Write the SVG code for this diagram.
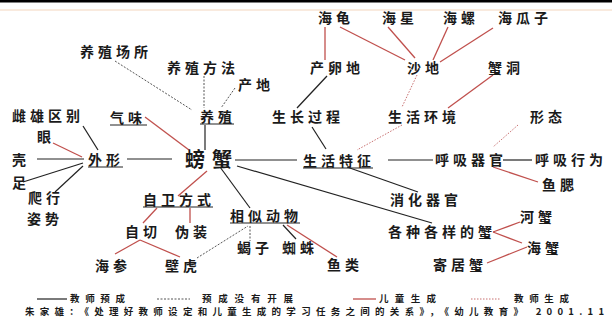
<svg xmlns="http://www.w3.org/2000/svg" width="612" height="322" viewBox="0 0 612 322">
<style>
text{font-family:"Noto Sans CJK SC","Noto Sans",sans-serif;fill:#1a1a1a;font-weight:bold;}
.t{font-size:14px;letter-spacing:4px;}
.big{font-size:20px;letter-spacing:7px;}
.lg{font-size:9.5px;}
.k{stroke:#222;stroke-width:1.2;fill:none;}
.r{stroke:#c0504d;stroke-width:1.3;fill:none;}
.kd{stroke:#555;stroke-width:1;stroke-dasharray:2 1.5;fill:none;}
.rd{stroke:#c87070;stroke-width:1;stroke-dasharray:1.5 1.5;fill:none;}
.u{stroke:#222;stroke-width:1;}
</style>
<rect x="0" y="0" width="612" height="322" fill="#fff"/>
<rect x="0" y="0" width="612" height="2.5" fill="#000"/>
<line x1="0" y1="10" x2="612" y2="10" stroke="#f3d6bd" stroke-width="1"/>

<g id="connectors">
<line class="k" x1="83" y1="126" x2="98" y2="150"/>
<line class="k" x1="37" y1="159" x2="84" y2="159"/>
<line class="k" x1="23" y1="182" x2="83" y2="163"/>
<line class="k" x1="55" y1="192" x2="83" y2="166"/>
<line class="k" x1="127" y1="159" x2="172" y2="159"/>
<line class="k" x1="205" y1="125" x2="205" y2="150"/>
<line class="k" x1="235" y1="160" x2="297" y2="160"/>
<line class="k" x1="327" y1="76" x2="297" y2="108"/>
<line class="k" x1="312" y1="127" x2="326" y2="149"/>
<line class="k" x1="388" y1="160" x2="433" y2="160"/>
<line class="k" x1="503" y1="160" x2="532" y2="160"/>
<line class="k" x1="347" y1="167" x2="418" y2="192"/>
<line class="k" x1="220" y1="167" x2="250" y2="208"/>
<line class="k" x1="237" y1="166" x2="432" y2="223"/>
<line class="k" x1="283" y1="225" x2="296" y2="239"/>

<line class="r" x1="53" y1="143" x2="82" y2="157"/>
<line class="r" x1="145" y1="117" x2="189" y2="150"/>
<line class="r" x1="207" y1="171" x2="178" y2="196"/>
<line class="r" x1="157" y1="208" x2="143" y2="223"/>
<line class="r" x1="190" y1="208" x2="190" y2="223"/>
<line class="r" x1="140" y1="240" x2="115" y2="254"/>
<line class="r" x1="140" y1="240" x2="180" y2="257"/>
<line class="r" x1="287" y1="225" x2="337" y2="257"/>
<line class="r" x1="325" y1="27" x2="325" y2="60"/>
<line class="r" x1="340" y1="27" x2="405" y2="60"/>
<line class="r" x1="388" y1="27" x2="415" y2="58"/>
<line class="r" x1="448" y1="27" x2="433" y2="60"/>
<line class="r" x1="493" y1="28" x2="440" y2="62"/>
<line class="r" x1="493" y1="75" x2="448" y2="108"/>
<line class="r" x1="493" y1="167" x2="538" y2="182"/>
<line class="r" x1="493" y1="232" x2="520" y2="222"/>
<line class="r" x1="493" y1="232" x2="522" y2="243"/>
<line class="r" x1="487" y1="263" x2="527" y2="247"/>

<line class="kd" x1="115" y1="61" x2="192" y2="110"/>
<line class="kd" x1="204" y1="76" x2="204" y2="108"/>
<line class="kd" x1="235" y1="88" x2="221" y2="108"/>
<line class="kd" x1="197" y1="258" x2="248" y2="226"/>
<line class="kd" x1="250" y1="226" x2="250" y2="241"/>

<line class="rd" x1="417" y1="75" x2="402" y2="107"/>
<line class="rd" x1="402" y1="125" x2="357" y2="150"/>
<line class="rd" x1="518" y1="125" x2="493" y2="147"/>
</g>

<g id="n-haigui"><text class="t" x="318" y="23">海龟</text></g>
<g id="n-haixing"><text class="t" x="382" y="23">海星</text></g>
<g id="n-hailuo"><text class="t" x="443" y="23">海螺</text></g>
<g id="n-haiguazi"><text class="t" x="498" y="23">海瓜子</text></g>
<g id="n-yangzhichangsuo"><text class="t" x="80" y="57">养殖场所</text></g>
<g id="n-chanluandi"><text class="t" x="310" y="73">产卵地</text></g>
<g id="n-shadi"><text class="t" x="407" y="73">沙地</text></g>
<g id="n-xiedong"><text class="t" x="488" y="73">蟹洞</text></g>
<g id="n-yangzhifangfa"><text class="t" x="167" y="73">养殖方法</text></g>
<g id="n-chandi"><text class="t" x="238" y="90">产地</text></g>
<g id="n-cixiong"><text class="t" x="12" y="121">雌雄区别</text></g>
<g id="n-qiwei"><text class="t" x="110" y="123">气味</text><line class="u" x1="110" y1="125" x2="147" y2="125"/></g>
<g id="n-yangzhi"><text class="t" x="200" y="122">养殖</text><line class="u" x1="200" y1="124" x2="234" y2="124"/></g>
<g id="n-shengzhang"><text class="t" x="272" y="122">生长过程</text></g>
<g id="n-shenghuohuanjing"><text class="t" x="388" y="122">生活环境</text></g>
<g id="n-xingtai"><text class="t" x="530" y="122">形态</text></g>
<g id="n-yan"><text class="t" x="37" y="142">眼</text></g>
<g id="n-ke"><text class="t" x="12" y="165">壳</text></g>
<g id="n-waixing"><text class="t" x="88" y="165">外形</text><line class="u" x1="88" y1="167" x2="123" y2="167"/></g>
<g id="n-pangxie"><text class="big" x="185" y="167">螃蟹</text></g>
<g id="n-shenghuotezheng"><text class="t" x="303" y="166">生活特征</text><line class="u" x1="303" y1="168" x2="373" y2="168"/></g>
<g id="n-huxiqiguan"><text class="t" x="435" y="165">呼吸器官</text></g>
<g id="n-huxixingwei"><text class="t" x="535" y="165">呼吸行为</text></g>
<g id="n-zu"><text class="t" x="12" y="188">足</text></g>
<g id="n-yusai"><text class="t" x="542" y="190">鱼腮</text></g>
<g id="n-paxing"><text class="t"><tspan x="28" y="203">爬行</tspan><tspan x="27" y="224">姿势</tspan></text></g>
<g id="n-ziwei"><text class="t" x="143" y="205">自卫方式</text><line class="u" x1="143" y1="207" x2="213" y2="207"/></g>
<g id="n-xiaohua"><text class="t" x="390" y="205">消化器官</text></g>
<g id="n-xiangsi"><text class="t" x="230" y="221">相似动物</text><line class="u" x1="230" y1="223" x2="300" y2="223"/></g>
<g id="n-hexie"><text class="t" x="520" y="222">河蟹</text></g>
<g id="n-ziqie"><text class="t" x="125" y="237">自切</text></g>
<g id="n-weizhuang"><text class="t" x="175" y="237">伪装</text></g>
<g id="n-gezhong"><text class="t" x="388" y="237">各种各样的蟹</text></g>
<g id="n-xiezi"><text class="t" x="237" y="253">蝎子</text></g>
<g id="n-zhizhu"><text class="t" x="282" y="253">蜘蛛</text></g>
<g id="n-haixie"><text class="t" x="527" y="253">海蟹</text></g>
<g id="n-haishen"><text class="t" x="95" y="271">海参</text></g>
<g id="n-bihu"><text class="t" x="165" y="271">壁虎</text></g>
<g id="n-yulei"><text class="t" x="327" y="270">鱼类</text></g>
<g id="n-jujuxie"><text class="t" x="433" y="270">寄居蟹</text></g>

<g id="legend">
<line class="k" x1="37" y1="299" x2="67" y2="299"/>
<text class="lg" x="70" y="302" textLength="55" lengthAdjust="spacing">教师预成</text>
<line class="kd" x1="157" y1="299" x2="190" y2="299" stroke="#999"/>
<text class="lg" x="202" y="302" textLength="91" lengthAdjust="spacing">预成没有开展</text>
<line class="r" x1="353" y1="299" x2="376" y2="299"/>
<text class="lg" x="379" y="302" textLength="57" lengthAdjust="spacing">儿童生成</text>
<line class="rd" x1="471" y1="299" x2="501" y2="299"/>
<text class="lg" x="514" y="302" textLength="55" lengthAdjust="spacing">教师生成</text>
<text class="lg" x="25" y="315" textLength="579" lengthAdjust="spacing">朱家雄：《处理好教师设定和儿童生成的学习任务之间的关系》，《幼儿教育》 2001.11</text>
</g>
</svg>
